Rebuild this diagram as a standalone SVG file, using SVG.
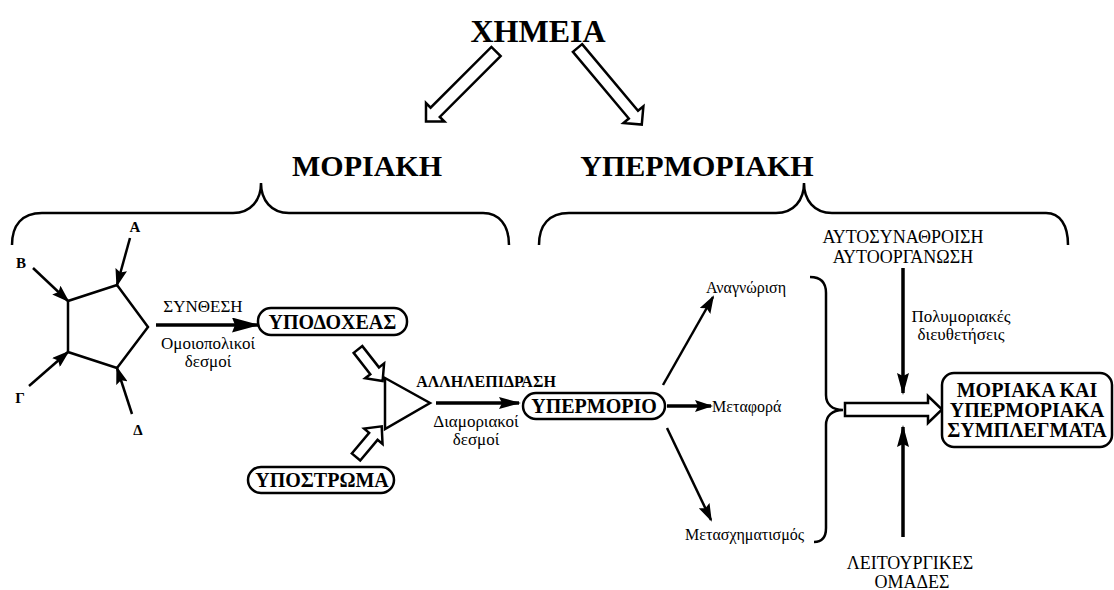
<svg xmlns="http://www.w3.org/2000/svg" width="1114" height="590" viewBox="0 0 1114 590">
<style>
text{font-family:"Liberation Serif","DejaVu Serif","Times New Roman",serif;fill:#000}
.b{font-weight:bold}
.t1{font-size:32px;font-weight:bold}
.t2{font-size:30px;font-weight:bold}
.box{font-size:20px;font-weight:bold}
.lab{font-size:15px;font-weight:bold}
.n{font-size:17px}
.m{font-size:18px}
.s{font-size:16px}
.ln{fill:none;stroke:#000;stroke-width:2.5}
.th{fill:none;stroke:#000;stroke-width:3.5}
.rb{fill:#fff;stroke:#000;stroke-width:2.5}
.ha{fill:#fff;stroke:#000;stroke-width:2.5;stroke-linejoin:miter}
.br{fill:none;stroke:#000;stroke-width:2.5}
</style>
<defs>
<marker id="ah" markerUnits="userSpaceOnUse" markerWidth="18" markerHeight="12" viewBox="0 0 18 12" refX="16" refY="6" orient="auto"><path d="M0,0 L18,6 L0,12 L3,6 z" fill="#000"/></marker>
<marker id="ahm" markerUnits="userSpaceOnUse" markerWidth="22" markerHeight="12" viewBox="0 0 22 12" refX="20" refY="6" orient="auto"><path d="M0,0 L22,6 L0,12 L3,6 z" fill="#000"/></marker>
<marker id="ahL" markerUnits="userSpaceOnUse" markerWidth="28" markerHeight="15" viewBox="0 0 28 15" refX="26" refY="7.5" orient="auto"><path d="M0,0 L28,7.5 L0,15 L3,7.5 z" fill="#000"/></marker>
</defs>

<g id="titles">
<text class="t1" x="538" y="42" text-anchor="middle">ΧΗΜΕΙΑ</text>
<text class="t2" x="367" y="176" text-anchor="middle">ΜΟΡΙΑΚΗ</text>
<text class="t2" x="697" y="176" text-anchor="middle">ΥΠΕΡΜΟΡΙΑΚΗ</text>
</g>

<g id="braces">
<path class="br" d="M12,245 C12,225 22,213 42,213 L233,213 C251,213 261,200 261,183 C261,200 271,213 289,213 L483,213 C499,213 509,225 509,245"/>
<path class="br" d="M539,245 C539,225 549,213 569,213 L776,213 C794,213 804,200 804,183 C804,200 814,213 832,213 L1046,213 C1060,213 1068,225 1068,245"/>
<path class="br" d="M810,277 C820,277 826,282 826,293 L826,395 C826,404 832,410 843,410 C832,410 826,416 826,425 L826,528 C826,537 822,542 814,542"/>
</g>

<g id="hollow-arrows">
<polygon class="ha" transform="translate(496,51.5) rotate(135)" points="0,-6.5 86,-6.5 86,-13 99,0 86,13 86,6.5 0,6.5"/>
<polygon class="ha" transform="translate(577.5,48) rotate(50)" points="0,-6 87,-6 87,-13 100,0 87,13 87,6 0,6"/>
<polygon class="ha" transform="translate(358,349.5) rotate(52)" points="0,-5.5 27,-5.5 27,-12 40,0 27,12 27,5.5 0,5.5"/>
<polygon class="ha" transform="translate(356,457) rotate(-50)" points="0,-5.5 27,-5.5 27,-12 40,0 27,12 27,5.5 0,5.5"/>
<polygon class="ha" points="845,403 928,403 928,396 942,409.5 928,423 928,416 845,416"/>
</g>

<g id="pentagon">
<polygon class="ln" points="117,285 148,327 117,368 68,352 68,301" stroke-linejoin="miter"/>
<text class="lab" x="135" y="232" text-anchor="middle">Α</text>
<text class="lab" x="21" y="268" text-anchor="middle">Β</text>
<text class="lab" x="20" y="403" text-anchor="middle">Γ</text>
<text class="lab" x="138" y="435" text-anchor="middle">Δ</text>
</g>

<g id="ypodoxeas">
<rect class="rb" x="258" y="308" width="149" height="27" rx="13"/>
<text class="box" x="332.5" y="329" text-anchor="middle">ΥΠΟΔΟΧΕΑΣ</text>
</g>

<g id="ypostroma">
<rect class="rb" x="248" y="467" width="146" height="26" rx="13"/>
<text class="box" x="322" y="487" text-anchor="middle">ΥΠΟΣΤΡΩΜΑ</text>
</g>

<g id="triangle">
<polygon class="ln" points="385,378 430,403 385,429"/>
</g>

<g id="ypermorio">
<rect class="rb" x="523" y="393" width="142" height="26" rx="13"/>
<text class="box" x="594" y="413" text-anchor="middle">ΥΠΕΡΜΟΡΙΟ</text>
</g>

<g id="complexes">
<rect class="rb" x="942" y="373" width="170" height="74" rx="12"/>
<text class="box" x="1027" y="397" text-anchor="middle">ΜΟΡΙΑΚΑ ΚΑΙ</text>
<text class="box" x="1027" y="417" text-anchor="middle">ΥΠΕΡΜΟΡΙΑΚΑ</text>
<text class="box" x="1027" y="437" text-anchor="middle">ΣΥΜΠΛΕΓΜΑΤΑ</text>
</g>

<g id="labels">
<text class="n" x="203" y="312" text-anchor="middle">ΣΥΝΘΕΣΗ</text>
<text class="n" x="208" y="349" text-anchor="middle">Ομοιοπολικοί</text>
<text class="n" x="208" y="367" text-anchor="middle">δεσμοί</text>
<text class="b" x="486" y="387" text-anchor="middle" font-size="16">ΑΛΛΗΛΕΠΙΔΡΑΣΗ</text>
<text class="n" x="476" y="427" text-anchor="middle">Διαμοριακοί</text>
<text class="n" x="476" y="445" text-anchor="middle">δεσμοί</text>
<text class="s" x="706" y="293">Αναγνώριση</text>
<text class="s" x="712" y="412">Μεταφορά</text>
<text class="s" x="685" y="540">Μετασχηματισμός</text>
<text class="m" x="903" y="243" text-anchor="middle">ΑΥΤΟΣΥΝΑΘΡΟΙΣΗ</text>
<text class="m" x="903" y="263" text-anchor="middle">ΑΥΤΟΟΡΓΑΝΩΣΗ</text>
<text class="n" x="961" y="322" text-anchor="middle">Πολυμοριακές</text>
<text class="n" x="961" y="340" text-anchor="middle">διευθετήσεις</text>
<text class="m" x="910" y="569" text-anchor="middle">ΛΕΙΤΟΥΡΓΙΚΕΣ</text>
<text class="m" x="912" y="588" text-anchor="middle">ΟΜΑΔΕΣ</text>
</g>

<g id="connectors">
<line class="ln" x1="130" y1="238" x2="117" y2="285" marker-end="url(#ah)"/>
<line class="ln" x1="33" y1="268" x2="68" y2="301" marker-end="url(#ah)"/>
<line class="ln" x1="29" y1="386" x2="68" y2="352" marker-end="url(#ah)"/>
<line class="ln" x1="132" y1="414" x2="117" y2="368" marker-end="url(#ah)"/>
<line class="th" x1="156" y1="325" x2="258" y2="325" marker-end="url(#ahL)"/>
<line class="th" x1="436" y1="403" x2="519" y2="403" marker-end="url(#ahm)"/>
<line class="ln" x1="663" y1="385" x2="713" y2="297" marker-end="url(#ah)"/>
<line class="th" x1="667" y1="406" x2="711" y2="406" marker-end="url(#ah)"/>
<line class="ln" x1="667" y1="428" x2="711" y2="520" marker-end="url(#ah)"/>
<line class="th" x1="903" y1="268" x2="903" y2="393" marker-end="url(#ahm)"/>
<line class="th" x1="903" y1="537" x2="903" y2="427" marker-end="url(#ahm)"/>
</g>
</svg>
